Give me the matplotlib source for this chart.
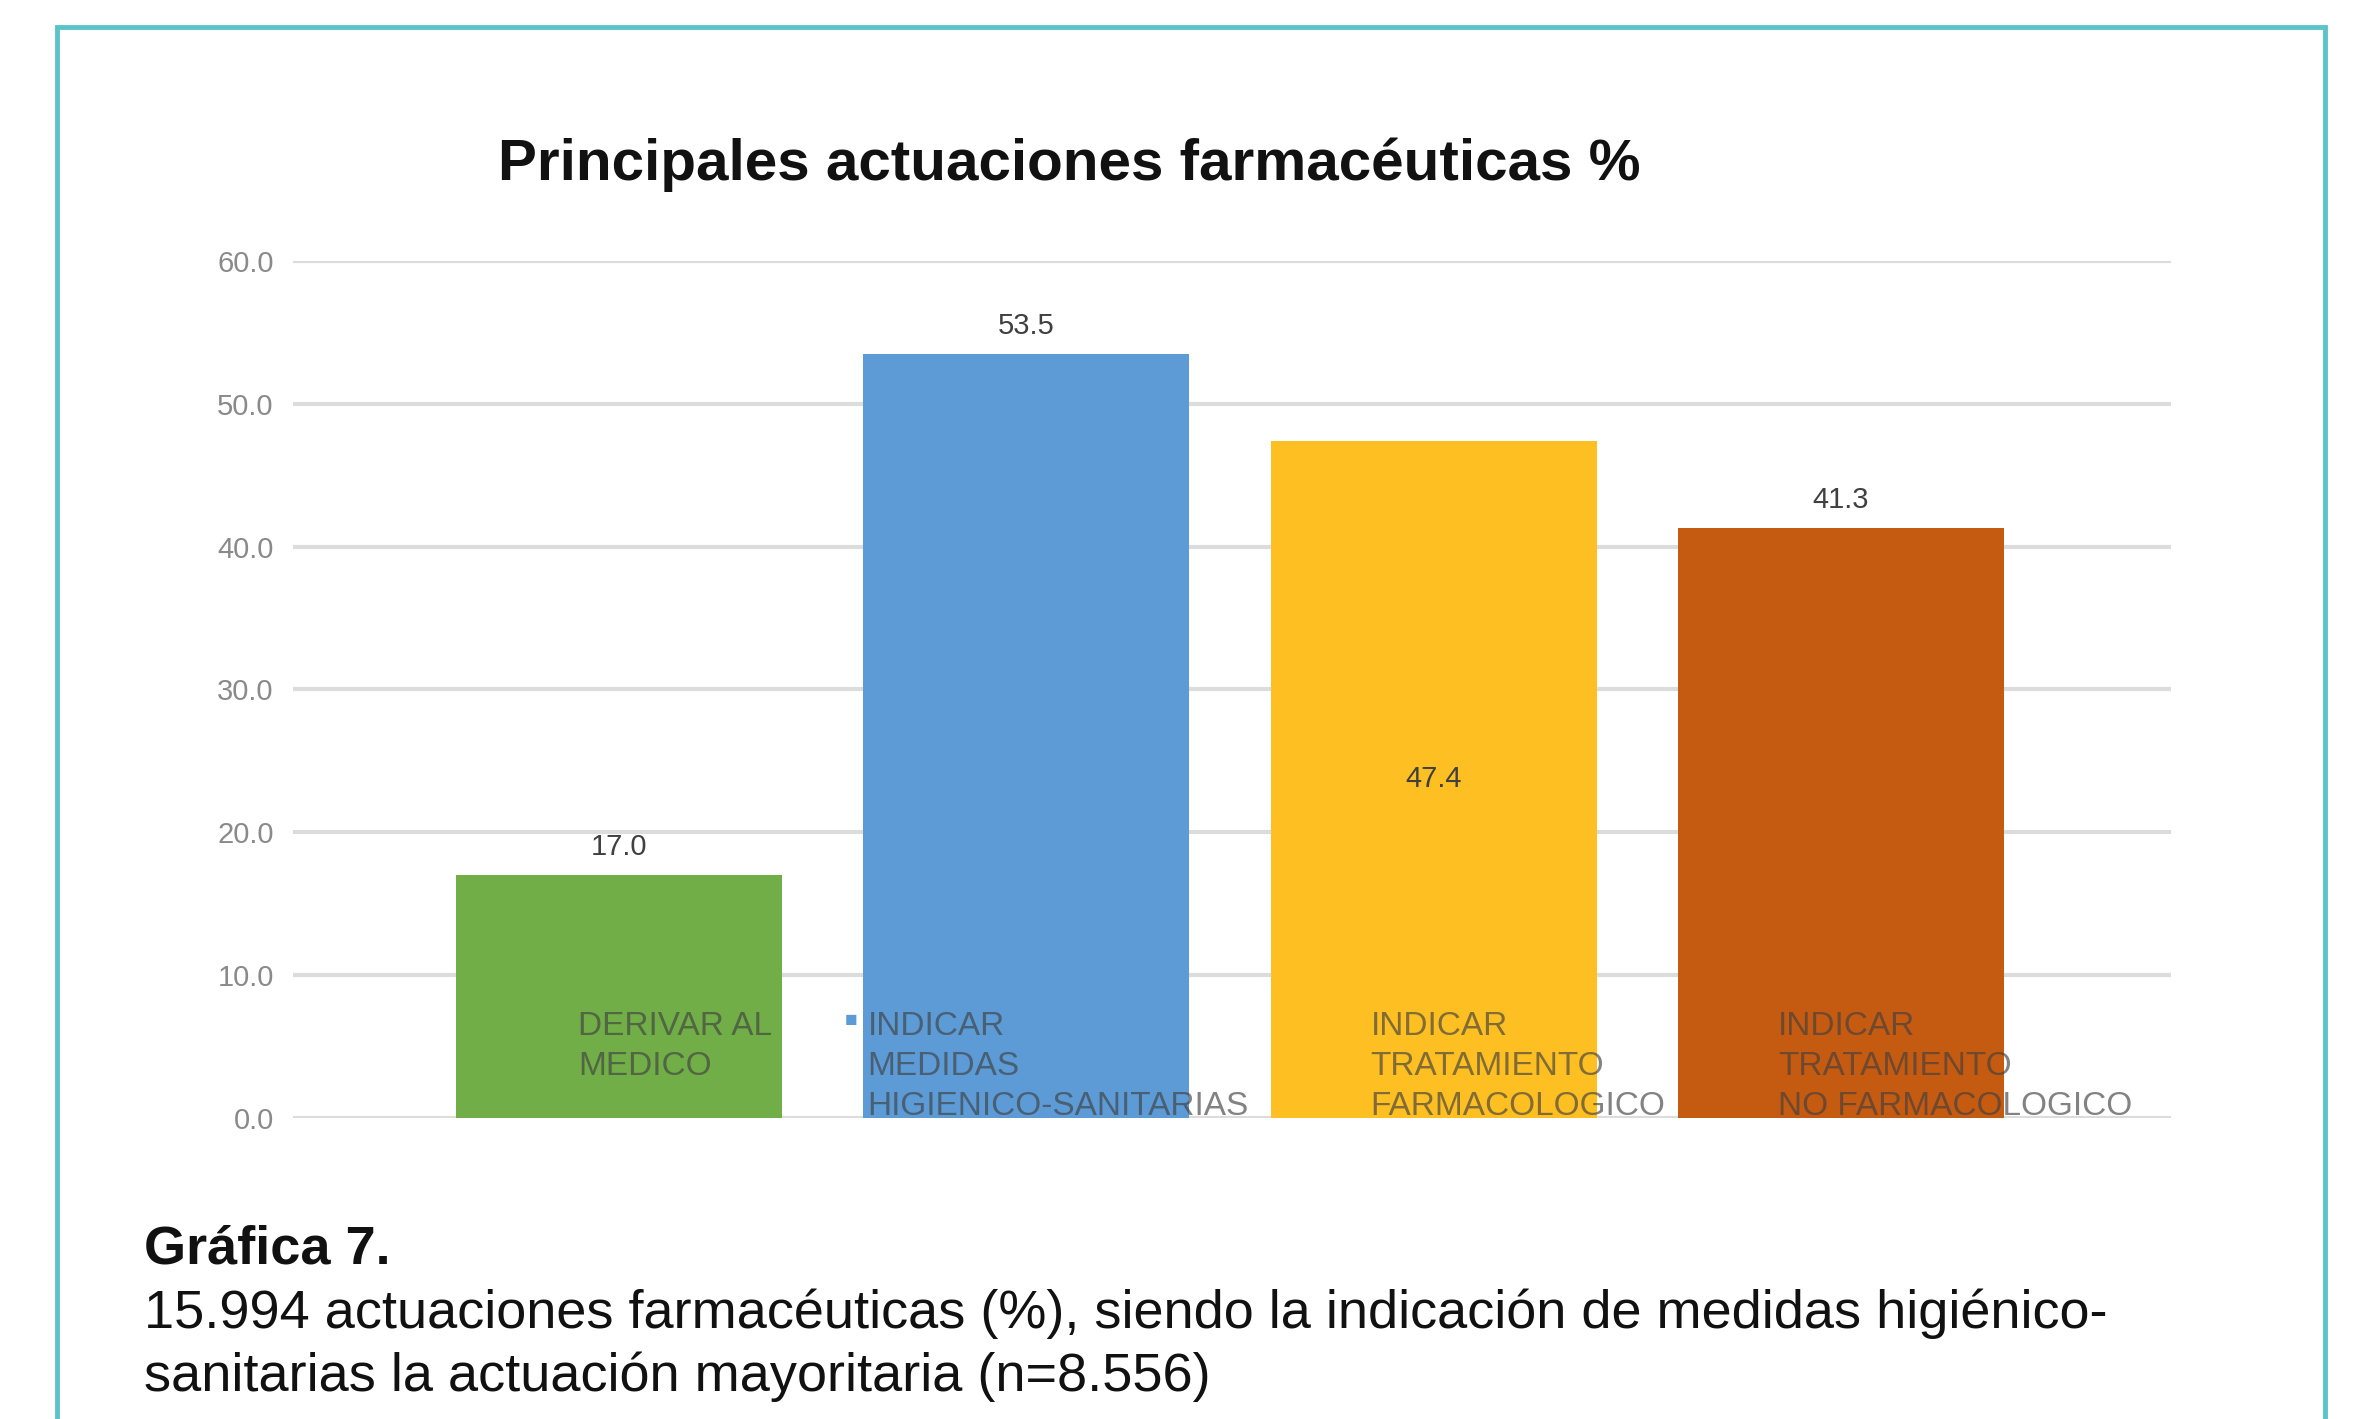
import matplotlib
matplotlib.use("Agg")
import matplotlib.pyplot as plt
from matplotlib.patches import Rectangle

plt.rcParams['font.family'] = ['Liberation Sans', 'DejaVu Sans']

# data
categorias = ["DERIVAR AL\nMEDICO",
              "INDICAR\nMEDIDAS\nHIGIENICO-SANITARIAS",
              "INDICAR\nTRATAMIENTO\nFARMACOLOGICO",
              "INDICAR\nTRATAMIENTO\nNO FARMACOLOGICO"]
valores = [17.0, 53.5, 47.4, 41.3]
colores = ["#72ae48", "#5c9bd6", "#fdbf22", "#c55a11"]
yticks = [0, 10, 20, 30, 40, 50, 60]

titulo = "Principales actuaciones farmacéuticas %"
pie_titulo = "Gráfica 7."
pie_texto = ("15.994 actuaciones farmacéuticas (%), siendo la indicación de medidas higiénico-\n"
             "sanitarias la actuación mayoritaria (n=8.556)")

fig = plt.figure(figsize=(23.56, 14.19), dpi=100)
fig.patch.set_facecolor("white")
ax = fig.add_axes([0.1244, 0.2121, 0.7971, 0.604])

x = list(range(len(valores)))
bars = ax.bar(x, valores, width=0.8, color=colores, zorder=2)

ax.set_xlim(-0.8, 3.81)
ax.set_ylim(0, 60)
ax.set_yticks(yticks)
ax.set_yticklabels(["%.1f" % v for v in yticks])
ax.tick_params(axis='y', length=0, pad=14, labelsize=21, labelcolor="#8a8a8a")
ax.set_xticks([])
for s in ax.spines.values():
    s.set_visible(False)
ax.yaxis.grid(True, color="#dcdcdc", linewidth=3, zorder=1)
ax.set_axisbelow(True)

# value labels (third one sits inside the bar)
for i, (b, v) in enumerate(zip(bars, valores)):
    if i == 2:
        ax.text(b.get_x() + b.get_width() / 2, v / 2, "%.1f" % v,
                ha='center', va='center', fontsize=21, color="#404040", zorder=4)
    else:
        ax.annotate("%.1f" % v, (b.get_x() + b.get_width() / 2, v),
                    xytext=(0, 10), textcoords='offset points',
                    ha='center', va='bottom', fontsize=21, color="#404040", zorder=4)

# category labels drawn over the bars like a broken legend
offs = [-0.10, -0.39, -0.155, -0.155]
for i, (lab, o) in enumerate(zip(categorias, offs)):
    ax.text(i + o, 7.5, lab, ha='left', va='top', fontsize=24,
            color="#404040", alpha=0.65, linespacing=1.38, zorder=5)
ax.text(0.555, 7.5, "■", ha='left', va='top', fontsize=15,
        color=colores[1], zorder=5)

fig.text(0.454, 0.884, titulo, ha='center', va='center',
         fontsize=42, fontweight='bold', color="#111111")

fig.text(0.0611, 0.1198, pie_titulo, ha='left', va='center',
         fontsize=39, fontweight='bold', color="#111111")
fig.text(0.0611, 0.052, pie_texto, ha='left', va='center',
         fontsize=39, color="#111111", linespacing=1.3)

border = Rectangle((0.0242, -0.05), 0.9626, 1.031, transform=fig.transFigure,
                   fill=False, edgecolor="#5cc4c8", linewidth=3.5)
fig.patches.append(border)

fig.savefig("out.png", dpi=100, facecolor="white")
